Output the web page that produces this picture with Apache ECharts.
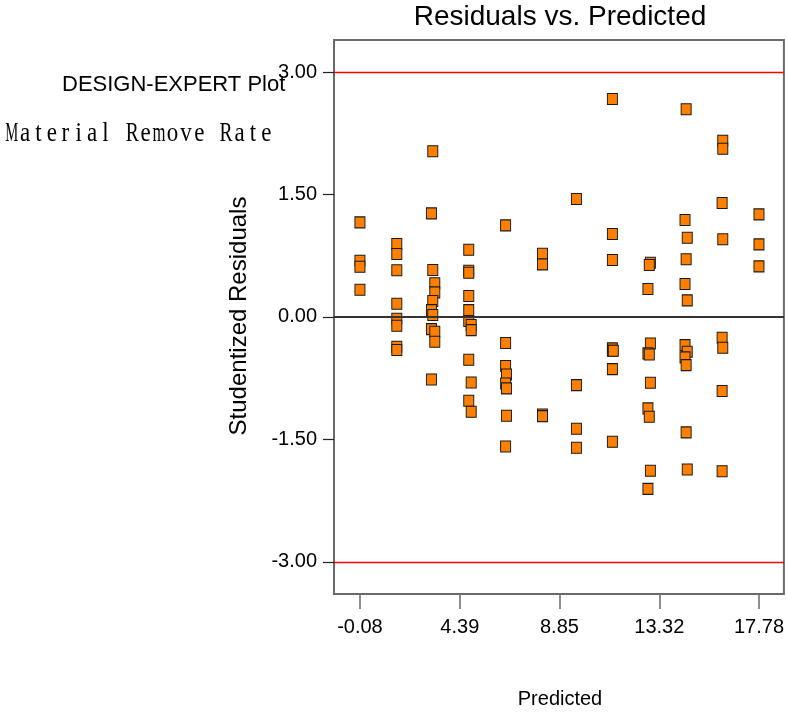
<!DOCTYPE html>
<html>
<head>
<meta charset="utf-8">
<title>Residuals vs. Predicted</title>
<script src="https://cdn.jsdelivr.net/npm/echarts@6/dist/echarts.min.js"></script>
<style>
  html, body { margin: 0; padding: 0; background: #fff; }
  #chart { width: 787px; height: 713px; }
</style>
</head>
<body>
<div id="chart"></div>
<script>
// Predicted values of the runs (x) and their studentized residuals (y)
const predicted = [
  -0.08, -0.08, -0.08, -0.08,
  1.57, 1.57, 1.57, 1.57, 1.57, 1.57, 1.57, 1.57,
  3.18, 3.12, 3.18, 3.27, 3.27, 3.18, 3.12, 3.18, 3.12, 3.27, 3.27, 3.12,
  4.79, 4.79, 4.79, 4.79, 4.79, 4.79, 4.90, 4.90, 4.79, 4.90, 4.79, 4.90,
  6.44, 6.44, 6.44, 6.48, 6.44, 6.48, 6.48, 6.44,
  8.09, 8.09, 8.09, 8.09,
  9.61, 9.61, 9.61, 9.61,
  11.22, 11.22, 11.22, 11.22, 11.22, 11.26, 11.22, 11.22,
  12.92, 12.87, 12.81, 12.92, 12.81, 12.87, 12.92, 12.81, 12.87, 12.92, 12.81,
  14.52, 14.47, 14.57, 14.52, 14.47, 14.57, 14.47, 14.57, 14.47, 14.52, 14.52, 14.57,
  16.16, 16.16, 16.13, 16.16, 16.13, 16.16, 16.13, 16.13,
  17.78, 17.78, 17.78
];
const residuals = [
  1.158, 0.688, 0.613, 0.332,
  0.892, 0.770, 0.570, 0.161, -0.023, -0.109, -0.366, -0.407,
  2.028, 1.268, 0.574, 0.411, 0.300, 0.194, 0.083, 0.022, -0.150, -0.183, -0.305, -0.766,
  0.822, 0.565, 0.540, 0.255, 0.083, -0.051, -0.100, -0.162, -0.526, -0.803, -1.028, -1.163,
  1.121, -0.321, -0.603, -0.705, -0.815, -0.876, -1.212, -1.587,
  0.773, 0.643, -1.195, -1.216,
  1.444, -0.836, -1.371, -1.604,
  2.669, 1.015, 0.696, -0.386, -0.415, -0.415, -0.640, -1.531,
  0.663, 0.635, 0.341, -0.325, -0.447, -0.460, -0.808, -1.121, -1.224, -1.886, -2.107,
  2.543, 1.186, 0.969, 0.705, 0.402, 0.202, -0.346, -0.428, -0.496, -0.591, -1.415, -1.869,
  2.158, 2.060, 1.395, 0.950, -0.256, -0.379, -0.909, -1.890,
  1.256, 0.888, 0.619
];

// Axis tick labels
const xTicks = [-0.08, 4.39, 8.85, 13.32, 17.78];
const yTicks = [-3.00, -1.50, 0.00, 1.50, 3.00];
// Outlier limits and the zero reference
const limits = [3.00, -3.00];
const zeroLine = 0;

const responseName = 'Material Remove Rate';

const points = predicted.map((p, i) => [p, residuals[i]]);

const chart = echarts.init(document.getElementById('chart'), null, { renderer: 'canvas' });
const sans = 'Liberation Sans, Arial, sans-serif';

// Response name set in fixed-width cells with a narrowed serif face
const serifFont = '28px Liberation Serif, Times New Roman, serif';
const measureCtx = document.createElement('canvas').getContext('2d');
measureCtx.font = serifFont;
const cell = 13.4;
const responseChars = responseName.split('').map((ch, i) => {
  const w = measureCtx.measureText(ch).width || 1;
  return {
    type: 'text',
    x: 5 + cell * i + cell / 2,
    y: 134,
    scaleX: Math.min(0.82, 13 / w),
    style: {
      text: ch, font: serifFont, fill: '#000',
      textAlign: 'center', textVerticalAlign: 'middle'
    }
  };
});

chart.setOption({
  animation: false,
  backgroundColor: '#ffffff',
  grid: {
    left: 334, top: 40, right: 2, bottom: 119,
    show: true, borderColor: '#6a6a6a', borderWidth: 2, backgroundColor: 'transparent'
  },
  xAxis: {
    type: 'value',
    min: -1.241, max: 18.896,
    splitLine: { show: false },
    axisLine: { show: false, onZero: false },
    axisTick: { show: true, length: 15, lineStyle: { color: '#6a6a6a', width: 1.5 }, customValues: xTicks },
    axisLabel: {
      customValues: xTicks, margin: 23, color: '#000', fontSize: 20, fontFamily: sans,
      formatter: v => v.toFixed(2)
    }
  },
  yAxis: {
    type: 'value',
    min: -3.395, max: 3.392,
    splitLine: { show: false },
    axisLine: { show: false, onZero: false },
    axisTick: { show: true, length: 11, lineStyle: { color: '#222', width: 1.2 }, customValues: yTicks },
    axisLabel: {
      customValues: yTicks, margin: 17, color: '#000', fontSize: 20, fontFamily: sans,
      formatter: v => v.toFixed(2)
    }
  },
  series: [
    {
      // reference lines drawn beneath the points
      type: 'line',
      data: [],
      z: 1,
      markLine: {
        silent: true,
        symbol: 'none',
        label: { show: false },
        data: [
          { yAxis: limits[0], lineStyle: { color: '#ff0000', width: 1.4, type: 'solid' } },
          { yAxis: limits[1], lineStyle: { color: '#ff0000', width: 1.4, type: 'solid' } },
          { yAxis: zeroLine, lineStyle: { color: '#333333', width: 2, type: 'solid' } }
        ]
      }
    },
    {
      type: 'scatter',
      z: 3,
      data: points,
      symbol: 'rect',
      symbolSize: [10, 11],
      itemStyle: { color: '#ff8000', borderColor: '#1a1a1a', borderWidth: 1, opacity: 1 }
    }
  ],
  graphic: [
    {
      type: 'text', x: 560, y: 17,
      style: { text: 'Residuals vs. Predicted', font: '28px ' + sans, fill: '#000', textAlign: 'center', textVerticalAlign: 'middle' }
    },
    {
      type: 'text', x: 62, y: 85,
      style: { text: 'DESIGN-EXPERT Plot', font: '22px ' + sans, fill: '#000', textAlign: 'left', textVerticalAlign: 'middle' }
    },
    {
      type: 'group',
      children: responseChars
    },
    {
      type: 'text', x: 239, y: 316, rotation: Math.PI / 2,
      style: { text: 'Studentized Residuals', font: '24px ' + sans, fill: '#000', textAlign: 'center', textVerticalAlign: 'middle' }
    },
    {
      type: 'text', x: 560, y: 699,
      style: { text: 'Predicted', font: '20px ' + sans, fill: '#000', textAlign: 'center', textVerticalAlign: 'middle' }
    }
  ]
});
</script>
</body>
</html>
